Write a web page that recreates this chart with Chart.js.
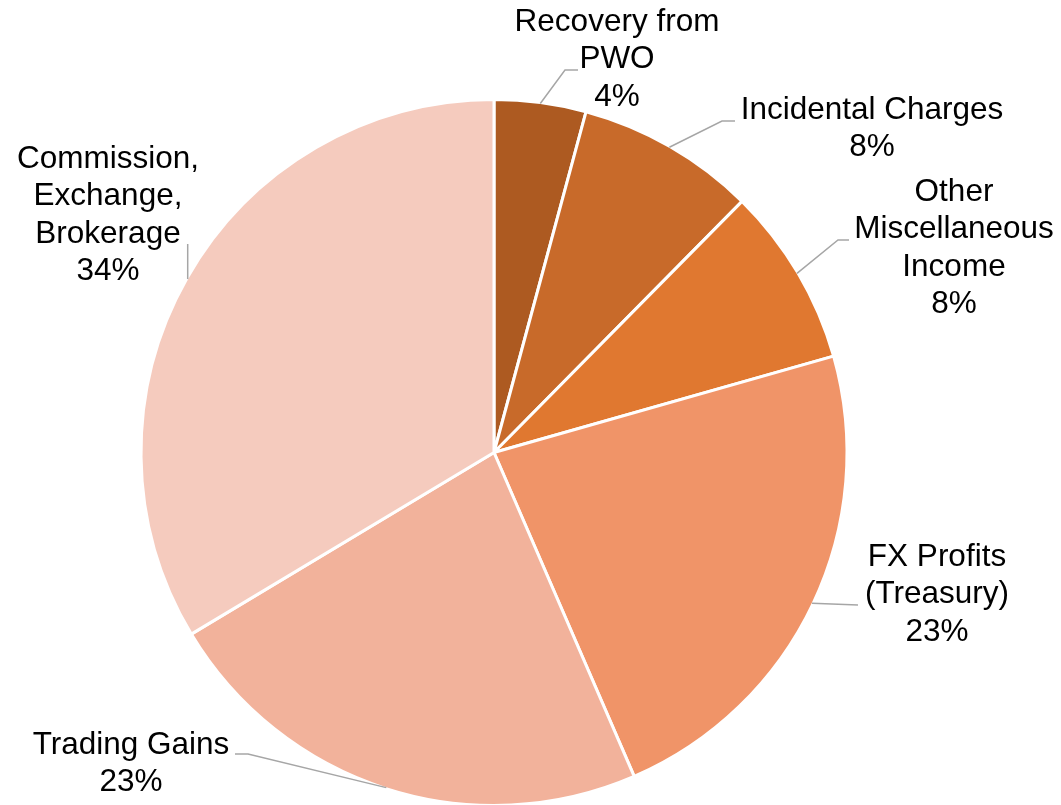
<!DOCTYPE html>
<html>
<head>
<meta charset="utf-8">
<script src="https://cdn.jsdelivr.net/npm/chart.js@4.4.0/dist/chart.umd.min.js"></script>
<style>
  html, body { margin: 0; padding: 0; background: #ffffff; }
  #wrap { width: 1061px; height: 805px; position: relative; }
</style>
</head>
<body>
<div id="wrap"><canvas id="c" width="1061" height="805"></canvas></div>
<script>
// ---- data ----
const categories = [
  "Recovery from PWO",
  "Incidental Charges",
  "Other Miscellaneous Income",
  "FX Profits (Treasury)",
  "Trading Gains",
  "Commission, Exchange, Brokerage"
];
const labelLines = [
  ["Recovery from", "PWO"],
  ["Incidental Charges"],
  ["Other", "Miscellaneous", "Income"],
  ["FX Profits", "(Treasury)"],
  ["Trading Gains"],
  ["Commission,", "Exchange,", "Brokerage"]
];
const values = [4.2, 8.2, 8.2, 22.9, 22.9, 33.6];

// ---- styles / layout ----
const colors = ["#AD5A21", "#C86A2A", "#E07830", "#F09468", "#F2B29B", "#F5CBBE"];
// label placement: text center x, first line center y, leader elbow/end points
const labelLayout = [
  { cx: 617, y0: 22,  pts: [[565, 70], [578, 70]] },
  { cx: 872, y0: 110, pts: [[722, 121], [735, 121]] },
  { cx: 954, y0: 192, pts: [[838, 240], [849, 240]] },
  { cx: 937, y0: 557, pts: [[858, 605]] },
  { cx: 131, y0: 745, pts: [[248, 754], [235, 754]] },
  { cx: 108, y0: 159, pts: [[null, 244]] }
];
const FONT = '31.5px "Liberation Sans", Arial, sans-serif';
const LINE_H = 37.5;

const labelPlugin = {
  id: 'outLabels',
  afterDatasetsDraw(chart) {
    const ctx = chart.ctx;
    const meta = chart.getDatasetMeta(0);
    const total = values.reduce((a, b) => a + b, 0);
    ctx.save();
    meta.data.forEach((arc, i) => {
      const p = arc.getProps(['x', 'y', 'startAngle', 'endAngle', 'outerRadius'], true);
      const mid = (p.startAngle + p.endAngle) / 2;
      const r = p.outerRadius - 1;
      const sx = p.x + Math.cos(mid) * r;
      const sy = p.y + Math.sin(mid) * r;
      const L = labelLayout[i];
      // leader line
      ctx.beginPath();
      ctx.strokeStyle = '#A6A6A6';
      ctx.lineWidth = 1.5;
      ctx.moveTo(sx, sy);
      L.pts.forEach(pt => ctx.lineTo(pt[0] === null ? sx : pt[0], pt[1]));
      ctx.stroke();
      // text
      ctx.fillStyle = '#000000';
      ctx.font = FONT;
      ctx.textAlign = 'center';
      ctx.textBaseline = 'middle';
      const lines = labelLines[i].concat([Math.round(values[i] / total * 100) + '%']);
      lines.forEach((t, k) => ctx.fillText(t, L.cx, L.y0 + k * LINE_H));
    });
    ctx.restore();
  }
};

new Chart(document.getElementById('c'), {
  type: 'pie',
  data: {
    labels: categories,
    datasets: [{
      data: values,
      backgroundColor: colors,
      borderColor: '#ffffff',
      borderWidth: 3
    }]
  },
  options: {
    responsive: false,
    animation: false,
    radius: 353,
    layout: { padding: { left: 0, right: 73, top: 100, bottom: 0 } },
    plugins: {
      legend: { display: false },
      tooltip: { enabled: false },
      title: { display: false }
    }
  },
  plugins: [labelPlugin]
});
</script>
</body>
</html>
